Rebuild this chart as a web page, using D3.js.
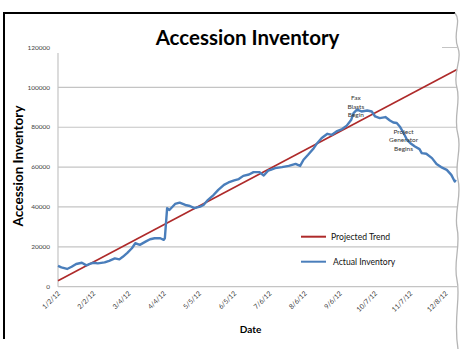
<!DOCTYPE html>
<html><head><meta charset="utf-8">
<script src="https://cdn.jsdelivr.net/npm/d3@7"></script>
<style>body{margin:0;background:#fff}svg{display:block}</style>
</head><body>
<script>
const yTicks = [0, 20000, 40000, 60000, 80000, 100000, 120000];
const xTickDates = ["2012-01-02","2012-02-02","2012-03-04","2012-04-04","2012-05-05","2012-06-05","2012-07-06","2012-08-06","2012-09-06","2012-10-07","2012-11-07","2012-12-08"];
const trendDates = ["2012-01-02","2012-12-18"];
const trendValues = [3000, 109000];
const actualDates = ["2012-01-02","2012-01-05","2012-01-10","2012-01-14","2012-01-18","2012-01-23","2012-01-27","2012-01-30","2012-02-02","2012-02-06","2012-02-12","2012-02-16","2012-02-21","2012-02-25","2012-02-28","2012-03-03","2012-03-07","2012-03-10","2012-03-14","2012-03-19","2012-03-23","2012-03-27","2012-04-01","2012-04-04","2012-04-05","2012-04-07","2012-04-09","2012-04-14","2012-04-18","2012-04-23","2012-04-27","2012-05-01","2012-05-06","2012-05-09","2012-05-13","2012-05-18","2012-05-22","2012-05-27","2012-05-31","2012-06-05","2012-06-09","2012-06-13","2012-06-18","2012-06-22","2012-06-27","2012-07-01","2012-07-05","2012-07-07","2012-07-11","2012-07-17","2012-07-23","2012-07-29","2012-08-02","2012-08-05","2012-08-09","2012-08-14","2012-08-17","2012-08-21","2012-08-26","2012-08-30","2012-09-03","2012-09-08","2012-09-12","2012-09-16","2012-09-18","2012-09-21","2012-09-25","2012-09-30","2012-10-04","2012-10-07","2012-10-11","2012-10-16","2012-10-20","2012-10-23","2012-10-26","2012-10-29","2012-11-01","2012-11-04","2012-11-07","2012-11-11","2012-11-15","2012-11-17","2012-11-21","2012-11-26","2012-11-30","2012-12-04","2012-12-09","2012-12-13","2012-12-16","2012-12-17"];
const actualValues = [10400,9700,8900,10000,11400,12000,10700,11400,12000,11700,12200,13000,14200,13700,15000,17000,19300,21800,21000,22600,23800,24300,24300,23500,24300,39400,38500,41500,42200,41000,40500,39400,40200,41000,43600,46100,48600,51100,52300,53300,54000,55600,56300,57500,57500,55800,58300,58600,59500,60000,60600,61600,60600,63700,66200,69500,72000,74600,76700,76200,77900,79100,80800,83800,87100,88800,87900,88400,87900,85400,84600,85100,83400,82400,82100,80100,77100,73700,72000,70300,69000,67000,66700,64500,61600,60000,58600,56100,52800,53600];
const annotations = [
  {date:"2012-09-20", value:93500, lines:["Fax","Blasts","Begin"]},
  {date:"2012-11-01", value:76500, lines:["Project","Generator","Begins"]}
];
const legendItems = [{label:"Projected Trend", color:"#AE2A2A"},{label:"Actual Inventory", color:"#4A7EBB"}];

const W = 474, H = 349;
const parse = d3.timeParse("%Y-%m-%d");
const svg = d3.select("body").append("svg").attr("width", W).attr("height", H);
const font = "Lato, 'Open Sans', sans-serif";

const x = d3.scaleTime().domain([parse("2012-01-02"), parse("2012-12-18")]).range([58, 457]);
const y = d3.scaleLinear().domain([0, 120000]).range([286.7, 47.5]);

// gridlines
svg.append("g").selectAll("line").data(yTicks).join("line")
  .attr("x1", 58).attr("x2", 457)
  .attr("y1", d => y(d)).attr("y2", d => y(d))
  .attr("stroke", "#c4c4c4").attr("stroke-width", 1.2);

// title cover box
svg.append("rect").attr("x", 56).attr("y", 14).attr("width", 386).attr("height", 39).attr("fill", "#fff");

// y axis line
svg.append("line").attr("x1", 58).attr("x2", 58).attr("y1", 53).attr("y2", y(0))
  .attr("stroke", "#c4c4c4").attr("stroke-width", 1.2);

// y tick labels
svg.append("g").selectAll("text").data(yTicks).join("text")
  .attr("x", 50).attr("y", d => y(d) + 2.2)
  .attr("text-anchor", "end").attr("font-family", font).attr("font-size", 6.5)
  .attr("fill", "#444").text(d => d);

// x tick labels
const fmt = d3.timeFormat("%-m/%-d/%y");
svg.append("g").selectAll("text").data(xTickDates.map(parse)).join("text")
  .attr("transform", d => `translate(${x(d) + 2.5},${294}) rotate(-45)`)
  .attr("text-anchor", "end").attr("font-family", font).attr("font-size", 6.8)
  .attr("fill", "#333").text(d => fmt(d));

// trend line
const trend = trendDates.map((d, i) => ({d: parse(d), v: trendValues[i]}));
const line = d3.line().x(p => x(p.d)).y(p => y(p.v));
svg.append("path").datum(trend).attr("d", line)
  .attr("fill", "none").attr("stroke", legendItems[0].color).attr("stroke-width", 1.6);

// actual line
const actual = actualDates.map((d, i) => ({d: parse(d), v: actualValues[i]}));
svg.append("path").datum(actual).attr("d", line)
  .attr("fill", "none").attr("stroke", legendItems[1].color).attr("stroke-width", 2.4)
  .attr("stroke-linejoin", "round");

// annotations
annotations.forEach(a => {
  const t = svg.append("text").attr("font-family", font).attr("font-size", 6.5).attr("fill", "#333")
    .attr("text-anchor", "middle");
  a.lines.forEach((l, i) => t.append("tspan").attr("x", x(parse(a.date))).attr("y", y(a.value) + i * 8.2).text(l));
});

// legend
legendItems.forEach((it, i) => {
  const ly = 236.7 + i * 25;
  svg.append("line").attr("x1", 301).attr("x2", 326).attr("y1", ly).attr("y2", ly)
    .attr("stroke", it.color).attr("stroke-width", 2);
  svg.append("text").attr("x", 331 + i * 2).attr("y", ly + 3)
    .attr("font-family", font).attr("font-size", 8.6).attr("fill", "#111").text(it.label);
});

// title
svg.append("text").attr("x", 247.5).attr("y", 45).attr("text-anchor", "middle")
  .attr("font-family", font).attr("font-weight", "bold").attr("font-size", 20.5)
  .attr("fill", "#000").text("Accession Inventory");

// y axis title
svg.append("text").attr("transform", "translate(23,166) rotate(-90)").attr("text-anchor", "middle")
  .attr("font-family", font).attr("font-weight", "bold").attr("font-size", 13.5)
  .attr("fill", "#000").text("Accession Inventory");

// x axis title
svg.append("text").attr("x", 250.5).attr("y", 333).attr("text-anchor", "middle")
  .attr("font-family", font).attr("font-weight", "bold").attr("font-size", 10)
  .attr("fill", "#000").text("Date");

// frame: left and top borders
svg.append("path").attr("d", "M4,339 L4,13 L455,13").attr("fill", "none")
  .attr("stroke", "#000").attr("stroke-width", 2);

// torn right edge
svg.append("rect").attr("x", 458).attr("y", 0).attr("width", 16).attr("height", H).attr("fill", "#fff");
svg.append("path")
  .attr("d", "M455,13 C462,22 452,34 458,48 C463,60 452,72 457,88 C461,102 453,118 458,135 C462,150 454,165 458,180 C462,195 454,212 457,228 C461,245 453,262 457,280 C461,298 453,318 458,349")
  .attr("fill", "none").attr("stroke", "#b5b5b5").attr("stroke-width", 1.3);
</script>
</body></html>
